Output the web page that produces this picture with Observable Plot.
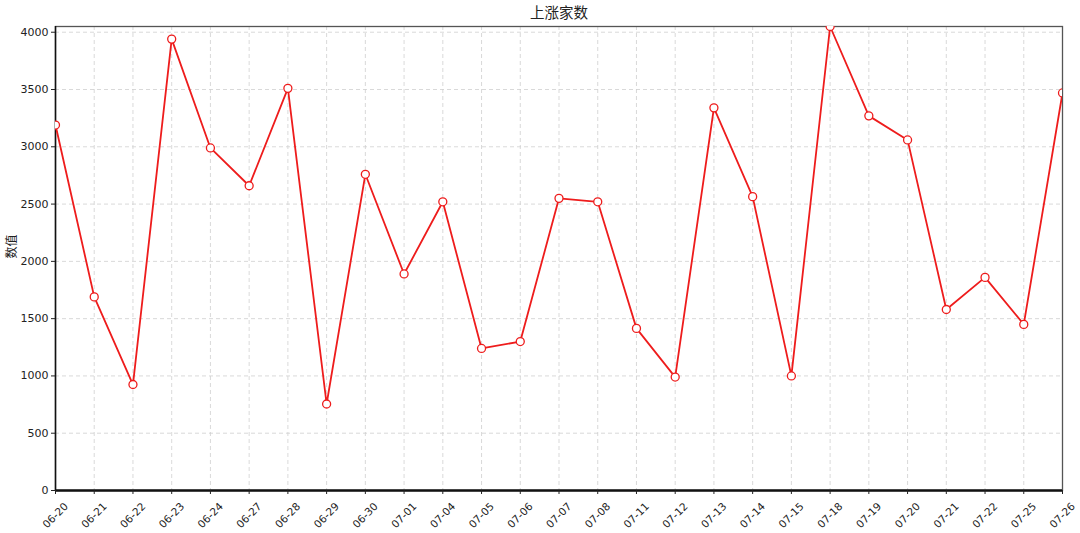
<!DOCTYPE html>
<html>
<head>
<meta charset="utf-8">
<script src="https://cdn.jsdelivr.net/npm/d3@7"></script>
<script src="https://cdn.jsdelivr.net/npm/@observablehq/plot@0.6"></script>
<style>
  html, body { margin: 0; padding: 0; background: #fff; }
  #chart { width: 1080px; height: 533px; }
  svg { font-family: "DejaVu Sans", "Noto Sans CJK SC", sans-serif; }
</style>
</head>
<body>
<div id="chart"></div>
<script>
const title = "上涨家数";
const yLabel = "数值";
const dates = ["06-20","06-21","06-22","06-23","06-24","06-27","06-28","06-29","06-30","07-01","07-04","07-05","07-06","07-07","07-08","07-11","07-12","07-13","07-14","07-15","07-18","07-19","07-20","07-21","07-22","07-25","07-26"];
const values = [3190,1690,925,3940,2990,2660,3510,755,2760,1890,2520,1240,1300,2550,2520,1415,990,3340,2565,1000,4050,3270,3060,1580,1860,1450,3470];
const yTicks = [0,500,1000,1500,2000,2500,3000,3500,4000];

const data = dates.map((d, i) => ({date: d, value: values[i]}));
const cjk = "\"Noto Sans CJK SC\", sans-serif";

const chart = Plot.plot({
  width: 1080,
  height: 533,
  marginLeft: 55,
  marginRight: 18,
  marginTop: 26,
  marginBottom: 43,
  style: {background: "#fff", color: "#222", fontSize: "11px"},
  x: {type: "point", domain: dates, padding: 0, round: false},
  y: {domain: [0, 4050]},
  marks: [
    Plot.gridY(yTicks, {stroke: "#cfcfcf", strokeOpacity: 1, strokeDasharray: "4,3", strokeWidth: 0.8}),
    Plot.gridX(dates, {stroke: "#cfcfcf", strokeOpacity: 1, strokeDasharray: "4,3", strokeWidth: 0.8}),
    Plot.frame({stroke: "#555", strokeWidth: 1.3}),
    Plot.ruleX([dates[0]], {stroke: "#111", strokeWidth: 1.5}),
    Plot.ruleY([0], {stroke: "#111", strokeWidth: 2.5}),
    Plot.axisY(yTicks, {tickSize: 4, tickPadding: 3, tickFormat: d => String(d), label: null, fontSize: 11, stroke: "#222"}),
    Plot.axisX(dates, {tickSize: 4, tickFormat: () => "", label: null}),
    Plot.text(dates, {x: d => d, frameAnchor: "bottom", lineAnchor: "middle", dy: 25, rotate: -45, textAnchor: "middle", fontSize: 10.5, fill: "#222"}),
    Plot.lineY(data, {x: "date", y: "value", stroke: "#ee1c1c", strokeWidth: 1.8, clip: true}),
    Plot.dot(data, {x: "date", y: "value", r: 4, fill: "white", stroke: "#ee1c1c", strokeWidth: 1.3, clip: true}),
    Plot.text([title], {frameAnchor: "top", lineAnchor: "middle", dy: -13, fontSize: 14.5, fill: "#222", fontFamily: cjk}),
    Plot.text([yLabel], {frameAnchor: "left", lineAnchor: "middle", dx: -43, rotate: -90, fontSize: 12, fill: "#222", fontFamily: cjk})
  ]
});
document.getElementById("chart").appendChild(chart);
</script>
</body>
</html>
